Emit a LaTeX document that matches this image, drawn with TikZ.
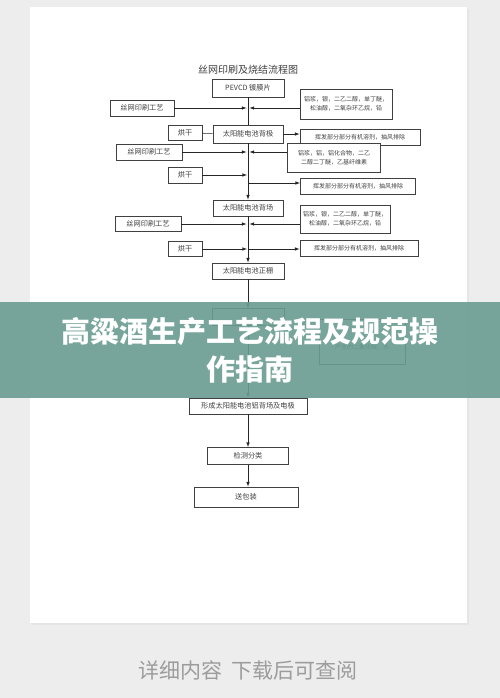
\documentclass[tikz,border=0pt]{standalone}
\usepackage{fontspec}
\setmainfont{Noto Sans CJK SC}
\usetikzlibrary{calc}
\definecolor{bgray}{HTML}{EDEDED}
\definecolor{banner}{HTML}{6A9C91}
\definecolor{foot}{HTML}{9C9C9C}

\begin{document}
\begin{tikzpicture}[x=1pt,y=-1pt,>=latex,
  box/.style={draw=black!75,line width=0.9pt,fill=white,inner sep=1pt,text=black!75,
    font=\fontsize{7.2}{8}\selectfont,minimum height=16pt},
  rbox/.style={box,font=\fontsize{6}{9.5}\selectfont,align=center},
  link/.style={black!85,line width=0.6pt}]
	\useasboundingbox (0,0) rectangle (500,698);
	\fill[bgray] (0,0) rectangle (500,698);
	\fill[black!10] (31,9) rectangle (469,625);
	\fill[white] (30,7) rectangle (467,623);

	\node[font=\fontsize{10}{11}\selectfont,text=black!75] (title) at (248,70) {丝网印刷及烧结流程图};

	\coordinate (j1) at (248,108);
	\coordinate (j2) at (248,152);
	\coordinate (j3) at (248,175);
	\coordinate (j4) at (248,183);
	\coordinate (j5) at (248,224);
	\coordinate (j6) at (248,249);

	\node[box,minimum width=72pt,minimum height=18pt] (pecvd) at (248,88) {PEVCD 镀膜片};
	\node[box,minimum width=64pt] (si1) at (142,108) {丝网印刷工艺};
	\node[rbox,minimum width=92pt,minimum height=30pt] (r1) at (346,104) {铝浆，银，二乙二醇，单丁醚，\\松油醇，二氧杂环乙烷，铅};
	\node[box,minimum width=34pt,minimum height=15pt] (hg1) at (185,133) {烘干};
	\node[box,minimum width=70pt,minimum height=18pt] (bj) at (248,134) {太阳能电池背极};
	\node[rbox,minimum width=120pt] (v1) at (360,137) {挥发部分部分有机溶剂，抽风排除};
	\node[box,minimum width=66pt] (si2) at (149,152) {丝网印刷工艺};
	\node[rbox,minimum width=93pt,minimum height=29pt] (r2) at (334,158) {铝浆，铝，铝化合物，二乙\\二醇二丁醚，乙基纤维素};
	\node[box,minimum width=34pt] (hg2) at (185,175) {烘干};
	\node[rbox,minimum width=115pt] (v2) at (358,186) {挥发部分部分有机溶剂，抽风排除};
	\node[box,minimum width=70pt] (bc) at (248,208) {太阳能电池背场};
	\node[rbox,minimum width=90pt,minimum height=28pt] (r3) at (345,219) {铝浆，银，二乙二醇，单丁醚，\\松油醇，二氧杂环乙烷，铅};
	\node[box,minimum width=66pt,minimum height=15pt] (si3) at (148,224) {丝网印刷工艺};
	\node[box,minimum width=34pt,minimum height=15pt] (hg3) at (185,249) {烘干};
	\node[rbox,minimum width=118pt] (v3) at (359,248) {挥发部分部分有机溶剂，抽风排除};
	\node[box,minimum width=72pt] (zs) at (248,271) {太阳能电池正栅};
	\node[box,minimum width=72pt,minimum height=17pt] (sj) at (248,317) {};
	\node[rbox,minimum width=86pt,minimum height=45pt] (rh) at (362,342) {};
	\node[font=\fontsize{6}{7}\selectfont,text=black!75] (rht) at (362,347) {产生的二氧化碳，水};
	\node[box,minimum width=118pt] (xc) at (248,406) {形成太阳能电池铝背场及电极};
	\node[box,minimum width=81pt,minimum height=17pt] (jc) at (248,456) {检测分类};
	\node[box,minimum width=104pt,minimum height=20pt] (bz) at (246,497) {送包装};

	\draw[link] (pecvd) -- (bj);
	\draw[link,->,shorten >=1.5pt] (si1) -- (j1);
	\draw[link,->,shorten >=1.5pt] (r1.west |- j1) -- (j1);
	\draw[link] (hg1) -- (bj);
	\draw[link,->] (bj.east) -- (bj.east -| v1.west);
	\draw[link,->] (bj) -- (bc);
	\draw[link,->,shorten >=1.5pt] (si2) -- (j2);
	\draw[link,->,shorten >=1.5pt] (r2.west |- j2) -- (j2);
	\draw[link,->,shorten >=1pt] (hg2) -- (j3);
	\draw[link,->] (j4) -- (j4 -| v2.west);
	\draw[link,->] (bc) -- (zs);
	\draw[link,->,shorten >=1.5pt] (si3) -- (j5);
	\draw[link,->,shorten >=1.5pt] (r3.west |- j5) -- (j5);
	\draw[link,->,shorten >=1pt] (hg3) -- (j6);
	\draw[link,->] (j6) -- (j6 -| v3.west);
	\draw[link,->] (zs) -- (sj);
	\draw[link,->] (sj.south) -- (sj.south |- xc.north);
	\draw[link,->] (xc) -- (jc);
	\draw[link,->] (jc) -- (bz.north -| jc.south);

	\fill[banner,opacity=0.9] (0,302) rectangle (500,398);
	\node[text=white,font=\fontsize{29}{38}\selectfont\bfseries,align=center] (head) at (250,350)
	  {高粱酒生产工艺流程及规范操\\作指南};

	\node[text=foot,font=\fontsize{21}{24}\selectfont] (more) at (248,670) {详细内容~~下载后可查阅};
\end{tikzpicture}
\end{document}
